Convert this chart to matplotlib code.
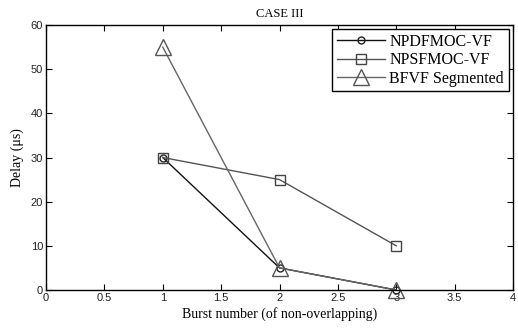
import matplotlib
matplotlib.use("Agg")
import matplotlib.pyplot as plt

burst = [1, 2, 3]
npdfmoc_vf = [30, 5, 0]
npsfmoc_vf = [30, 25, 10]
bfvf_seg = [55, 5, 0]

serif = ['Times New Roman', 'Liberation Serif', 'DejaVu Serif']
sans = ['Liberation Sans', 'DejaVu Sans']

fig = plt.figure(figsize=(5.18, 3.29), dpi=100)
ax = fig.add_axes([46 / 518, 1 - 290 / 329, (513 - 46) / 518, (290 - 25) / 329])

# markers sit on the x axis at burst 3, so don't clip them
ax.plot(burst, npdfmoc_vf, color='#111111', lw=1.0, marker='o', ms=5,
        mfc='none', mec='#222222', label='NPDFMOC-VF', clip_on=False)
ax.plot(burst, npsfmoc_vf, color='#555555', lw=1.0, marker='s', ms=6.5,
        mfc='none', mec='#444444', label='NPSFMOC-VF', clip_on=False)
ax.plot(burst, bfvf_seg, color='#666666', lw=1.0, marker='^', ms=11,
        mfc='none', mec='#555555', label='BFVF Segmented', clip_on=False)

ax.set_xlim(0, 4)
ax.set_ylim(0, 60)
ax.set_xticks([0, 0.5, 1, 1.5, 2, 2.5, 3, 3.5, 4])
ax.set_xticklabels(['0', '0.5', '1', '1.5', '2', '2.5', '3', '3.5', '4'])
ax.set_yticks([0, 10, 20, 30, 40, 50, 60])
ax.tick_params(direction='in', top=True, right=True, length=4, width=0.8,
               labelsize=8, pad=2)
for lab in ax.get_xticklabels() + ax.get_yticklabels():
    lab.set_family(sans)
    lab.set_color('#222222')
for s in ax.spines.values():
    s.set_linewidth(1.0)

ax.set_title('CASE III', family=serif, fontsize=9, pad=6)
ax.set_xlabel('Burst number (of non-overlapping)', family=serif, fontsize=10, labelpad=3)
ax.set_ylabel('Delay (\u03bcs)', family=serif, fontsize=10, labelpad=5)

leg = ax.legend(loc='upper right', bbox_to_anchor=(0.991, 0.985), borderaxespad=0,
                prop={'family': serif, 'size': 11.5}, fancybox=False,
                framealpha=1, edgecolor='black', handlelength=3.0,
                borderpad=0.3, labelspacing=0.15, handletextpad=0.3)
leg.get_frame().set_linewidth(1.0)

fig.savefig('out.png', dpi=100)
